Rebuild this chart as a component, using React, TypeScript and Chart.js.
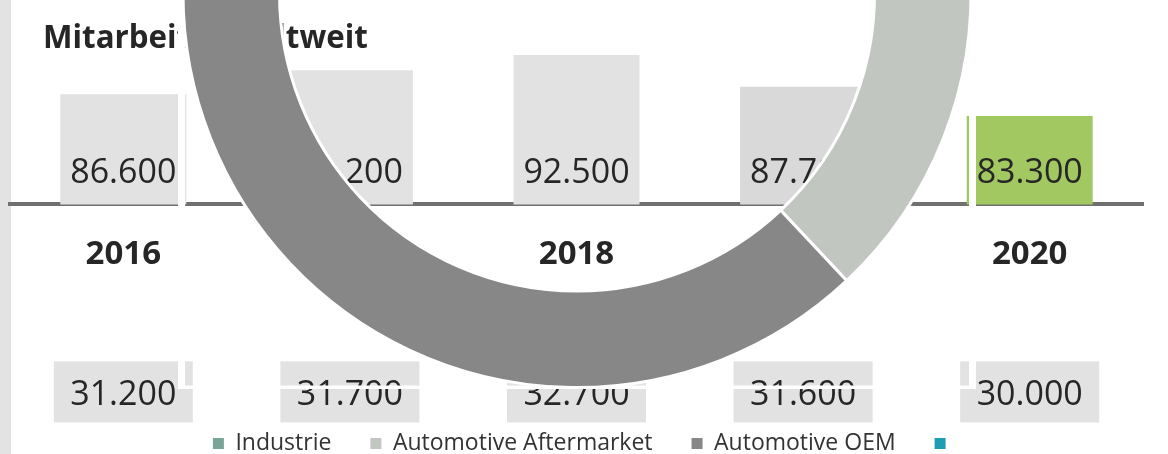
import React, { useEffect, useRef } from 'react';
import { Chart, registerables } from 'chart.js';

Chart.register(...registerables);

// ---- data ----
const years = ['2016', '2017', '2018', '2019', '2020'];
const worldwideEmployees = [86600, 90200, 92500, 87700, 83300];
const germanyEmployees = [31200, 31700, 32700, 31600, 30000];
const segmentLabels = ['Industrie', 'Automotive Aftermarket', 'Automotive OEM', ''];
const segmentShares = [24, 14, 62, 0];
const titleText = 'Mitarbeiter weltweit';

// ---- styles ----
const barColors = ['#e2e2e2', '#e2e2e2', '#e2e2e2', '#d9d9d9', '#a2c862'];
const segmentColors = ['#79a498', '#c1c6c0', '#878787', '#1f9db4'];
const FONT = '"Open Sans", sans-serif';
const TEXT = '#262626';

const fmt = (v: number) => String(v).replace(/\B(?=(\d{3})+(?!\d))/g, '.');

const barLabels = {
  id: 'barLabels',
  afterDatasetsDraw(chart: any) {
    const { ctx, chartArea } = chart;
    const meta = chart.getDatasetMeta(0);
    const xScale = chart.scales.x;
    ctx.save();
    ctx.font = `34px ${FONT}`;
    ctx.textAlign = 'center';
    ctx.textBaseline = 'alphabetic';
    ctx.fillStyle = TEXT;
    meta.data.forEach((bar: any, i: number) => {
      ctx.fillText(fmt(worldwideEmployees[i]), bar.x, chartArea.bottom - 21);
    });
    germanyEmployees.forEach((v, i) => {
      const x = xScale.getPixelForValue(i);
      const w = 139;
      const top = chartArea.bottom + 157;
      const h = 61;
      ctx.fillStyle = '#e2e2e2';
      ctx.fillRect(x - w / 2, top, w, h);
      ctx.fillStyle = TEXT;
      ctx.fillText(fmt(v), x, top + 44);
    });
    ctx.textAlign = 'left';
    ctx.font = `bold 31.3px ${FONT}`;
    ctx.fillStyle = TEXT;
    ctx.fillText(titleText, 43, 48);
    ctx.restore();
  },
};

const ringFrame = {
  id: 'ringFrame',
  beforeDatasetsDraw(chart: any) {
    const arc = chart.getDatasetMeta(0).data[0];
    if (!arc) return;
    const { x, y, outerRadius } = arc;
    const bw = (chart.data.datasets[0].borderWidth || 0) / 2;
    const h = outerRadius + bw;
    const ctx = chart.ctx;
    ctx.save();
    ctx.strokeStyle = '#ffffff';
    ctx.lineWidth = 7;
    ctx.strokeRect(x - h, y - h, 2 * h, 2 * h);
    ctx.restore();
  },
};

const legendLabels = (chart: any) =>
  (Chart as any).overrides.doughnut.plugins.legend.labels
    .generateLabels(chart)
    .map((l: any) => ({ ...l, lineWidth: 0 }));

export default function App() {
  const barRef = useRef<HTMLCanvasElement>(null);
  const ringRef = useRef<HTMLCanvasElement>(null);
  const legendRef = useRef<HTMLCanvasElement>(null);

  useEffect(() => {
    const bar = new Chart(barRef.current as HTMLCanvasElement, {
      type: 'bar',
      data: {
        labels: years,
        datasets: [
          {
            label: titleText,
            data: worldwideEmployees,
            backgroundColor: barColors,
            borderWidth: 0,
            categoryPercentage: 1,
            barPercentage: 0.556,
          },
        ],
      },
      options: {
        responsive: false,
        animation: false,
        events: [],
        layout: { padding: { top: 55, left: 10, right: 25, bottom: 150 } },
        plugins: {
          legend: { display: false },
          tooltip: { enabled: false },
          title: { display: false },
        },
        scales: {
          x: {
            grid: { display: false, drawTicks: false },
            border: { display: true, color: '#707070', width: 4 },
            ticks: {
              color: TEXT,
              font: { family: FONT, size: 33, weight: 'bold' },
              padding: 30,
            },
          },
          y: { display: false, min: 70000, max: 92500 },
        },
      },
      plugins: [barLabels],
    } as any);

    const ringData = (bw: number) => ({
      labels: segmentLabels,
      datasets: [
        {
          data: segmentShares,
          backgroundColor: segmentColors,
          borderColor: '#ffffff',
          borderWidth: bw,
          hoverBorderWidth: bw,
        },
      ],
    });

    const ring = new Chart(ringRef.current as HTMLCanvasElement, {
      type: 'doughnut',
      data: ringData(3),
      options: {
        responsive: false,
        animation: false,
        events: [],
        cutout: '75.5%',
        layout: { padding: 0 },
        plugins: {
          tooltip: { enabled: false },
          legend: { display: false },
        },
      },
      plugins: [ringFrame],
    } as any);

    // legend of the segment doughnut, rendered in its own strip (no arcs drawn there)
    const legend = new Chart(legendRef.current as HTMLCanvasElement, {
      type: 'doughnut',
      data: ringData(0),
      options: {
        responsive: false,
        animation: false,
        events: [],
        radius: 0,
        cutout: 0,
        layout: { padding: 0 },
        plugins: {
          tooltip: { enabled: false },
          legend: {
            position: 'bottom',
            labels: {
              boxWidth: 11,
              boxHeight: 11,
              padding: 39,
              color: '#333333',
              font: { family: FONT, size: 23 },
              generateLabels: legendLabels,
            },
          },
        },
      },
    } as any);

    return () => {
      bar.destroy();
      ring.destroy();
      legend.destroy();
    };
  }, []);

  return (
    <div
      style={{
        position: 'fixed',
        left: 0,
        top: 0,
        width: 1168,
        height: 454,
        overflow: 'hidden',
        background: '#ffffff',
      }}
    >
      <div style={{ position: 'absolute', left: 0, top: 0, width: 11, height: 454, background: '#e3e3e3' }} />
      <canvas
        ref={barRef}
        width={1168}
        height={454}
        style={{ position: 'absolute', left: 0, top: 0, width: 1168, height: 454 }}
      />
      <canvas
        ref={ringRef}
        width={1154}
        height={791}
        style={{ position: 'absolute', left: 0, top: -402, width: 1154, height: 791 }}
      />
      <canvas
        ref={legendRef}
        width={1154}
        height={150}
        style={{ position: 'absolute', left: 8, top: 315, width: 1154, height: 150 }}
      />
    </div>
  );
}
